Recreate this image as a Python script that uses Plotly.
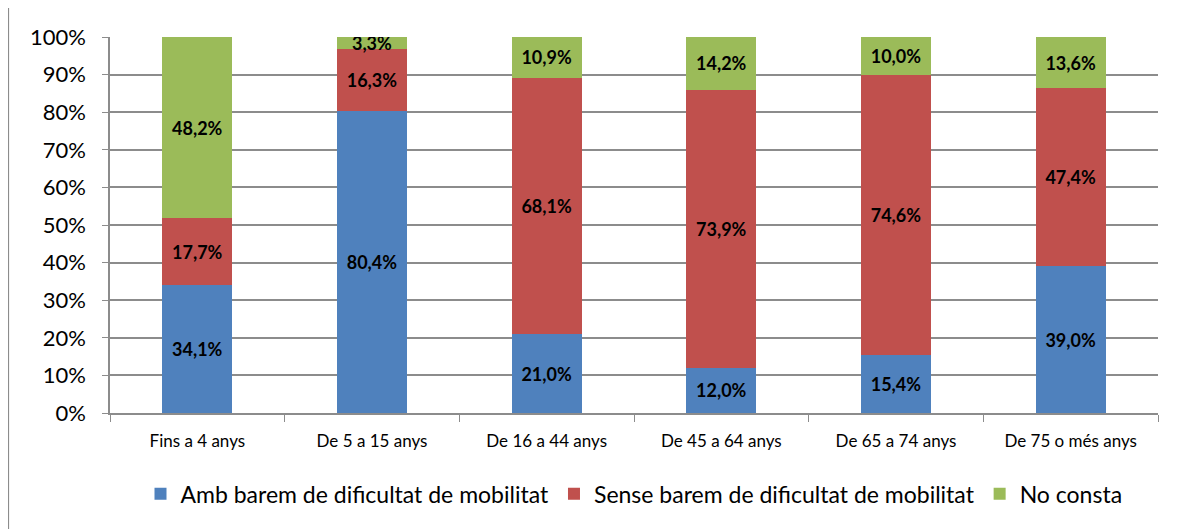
import plotly.graph_objects as go

categories = ["Fins a 4 anys", "De 5 a 15 anys", "De 16 a 44 anys",
              "De 45 a 64 anys", "De 65 a 74 anys", "De 75 o més anys"]
amb_barem = [34.1, 80.4, 21.0, 12.0, 15.4, 39.0]
sense_barem = [17.7, 16.3, 68.1, 73.9, 74.6, 47.4]
no_consta = [48.2, 3.3, 10.9, 14.2, 10.0, 13.6]

series = [
    ("Amb barem de dificultat de mobilitat", amb_barem, "#4F81BD"),
    ("Sense barem de dificultat de mobilitat", sense_barem, "#C0504D"),
    ("No consta", no_consta, "#9BBB59"),
]

font_name = "Lato, Open Sans, sans-serif"
grey = "#8c8c8c"

fig = go.Figure()
for name, vals, color in series:
    fig.add_trace(go.Bar(
        x=categories,
        y=vals,
        name=name,
        marker=dict(color=color, line=dict(width=0)),
        text=[f"{v:.1f}%".replace(".", ",") for v in vals],
        textposition="inside",
        insidetextanchor="middle",
        textangle=0,
        textfont=dict(family=font_name, size=18, color="black", weight="bold"),
        constraintext="none",
    ))

# page body has an 8px margin, so the figure is a bit smaller than the window
fig.update_layout(
    barmode="stack",
    bargap=0.6,
    width=1169,
    height=521,
    margin=dict(l=102, r=19, t=29, b=116, autoexpand=False),
    plot_bgcolor="white",
    paper_bgcolor="white",
    font=dict(family=font_name, color="black"),
    uniformtext=dict(mode=False),
    showlegend=True,
    legend=dict(
        orientation="h",
        x=0.5, xanchor="center",
        y=-0.215, yanchor="middle",
        font=dict(size=23),
        traceorder="normal",
        itemwidth=30,
    ),
    shapes=[dict(
        type="rect", xref="paper", yref="paper",
        x0=-0.097, x1=1.2, y0=-0.5, y1=1.08,
        line=dict(color=grey, width=1.5),
    )],
)
fig.update_yaxes(
    range=[0, 100],
    dtick=10,
    ticksuffix="%",
    showgrid=True,
    gridcolor=grey,
    gridwidth=1.5,
    showline=True,
    linecolor=grey,
    linewidth=1.5,
    ticks="outside",
    ticklen=6,
    tickcolor=grey,
    tickfont=dict(size=22),
    ticklabelstandoff=12,
    zeroline=False,
)
fig.update_xaxes(
    showline=True,
    linecolor=grey,
    linewidth=1.5,
    ticks="outside",
    tickson="boundaries",
    ticklen=7,
    tickcolor=grey,
    tickfont=dict(size=17),
    ticklabelstandoff=12,
)

fig.write_html("out.html")
